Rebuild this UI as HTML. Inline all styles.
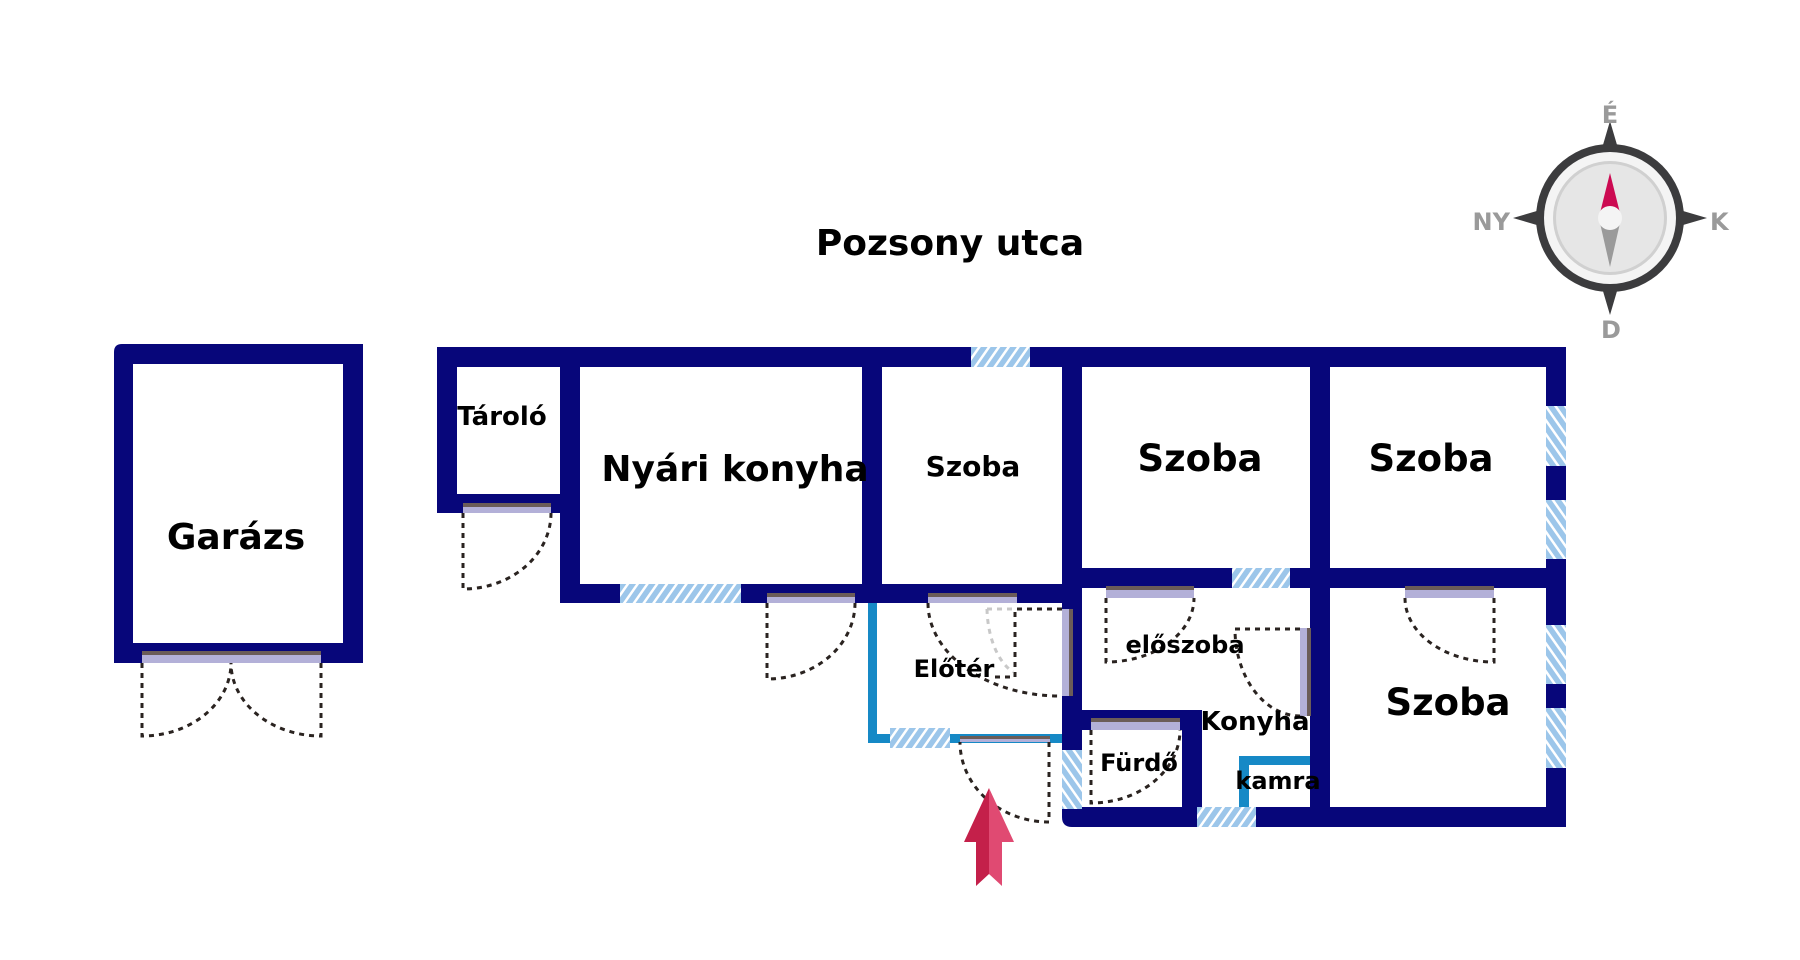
<!DOCTYPE html>
<html><head><meta charset="utf-8"><style>
html,body{margin:0;padding:0;background:#fff;}
svg{display:block;}
text{font-family:"DejaVu Sans","Liberation Sans",sans-serif;font-weight:bold;fill:#000;}
</style></head><body>
<svg width="1800" height="960" viewBox="0 0 1800 960" xmlns="http://www.w3.org/2000/svg">
<defs>
<pattern id="hatch" width="8" height="8" patternUnits="userSpaceOnUse" patternTransform="rotate(35)">
<rect width="8" height="8" fill="#9cc6ea"/><rect width="2.5" height="8" fill="#ffffff"/>
</pattern>
<pattern id="hatch2" width="8" height="8" patternUnits="userSpaceOnUse" patternTransform="rotate(-35)">
<rect width="8" height="8" fill="#9cc6ea"/><rect width="2.5" height="8" fill="#ffffff"/>
</pattern>
</defs>
<g fill="#07067a">
<path d="M114 352 Q114 344 122 344 L363 344 L363 663 L114 663 Z M133 364 L133 643 L343 643 L343 364 Z" fill-rule="evenodd"/>
<rect x="437" y="347" width="1129" height="20"/>
<rect x="437" y="347" width="20" height="166"/>
<rect x="437" y="494" width="143" height="19"/>
<rect x="560" y="347" width="20" height="256"/>
<rect x="560" y="584" width="522" height="19"/>
<rect x="862" y="347" width="20" height="256"/>
<rect x="1062" y="347" width="20" height="470"/>
<rect x="1310" y="347" width="20" height="480"/>
<rect x="1546" y="347" width="20" height="480"/>
<rect x="1062" y="568" width="504" height="20"/>
<rect x="1062" y="710" width="140" height="20"/>
<rect x="1182" y="710" width="20" height="117"/>
<path d="M1062 807 L1566 807 L1566 827 L1072 827 Q1062 827 1062 817 Z"/>
</g>
<g fill="#1689c6">
<rect x="868" y="603" width="9" height="140"/>
<rect x="868" y="734" width="194" height="9"/>
<rect x="1239" y="756" width="10" height="51"/>
<rect x="1239" y="756" width="71" height="9"/>
</g>
<rect x="971" y="347" width="59" height="20" fill="url(#hatch)"/>
<rect x="620" y="584" width="121" height="19" fill="url(#hatch)"/>
<rect x="1232" y="568" width="58" height="20" fill="url(#hatch)"/>
<rect x="1546" y="406" width="20" height="60" fill="url(#hatch2)"/>
<rect x="1546" y="500" width="20" height="59" fill="url(#hatch2)"/>
<rect x="1546" y="625" width="20" height="59" fill="url(#hatch2)"/>
<rect x="1546" y="708" width="20" height="60" fill="url(#hatch2)"/>
<rect x="890" y="728" width="60" height="20" fill="url(#hatch)"/>
<rect x="1062" y="750" width="20" height="59" fill="url(#hatch2)"/>
<rect x="1197" y="807" width="59" height="20" fill="url(#hatch)"/>
<g>
<rect x="142" y="651" width="179" height="12" fill="#b3b0d8"/><rect x="142" y="651" width="179" height="4" fill="#6b5c58"/>
<rect x="463" y="503" width="88" height="10" fill="#b3b0d8"/><rect x="463" y="503" width="88" height="4" fill="#6b5c58"/>
<rect x="767" y="593" width="88" height="10" fill="#b3b0d8"/><rect x="767" y="593" width="88" height="4" fill="#6b5c58"/>
<rect x="928" y="593" width="89" height="10" fill="#b3b0d8"/><rect x="928" y="593" width="89" height="4" fill="#6b5c58"/>
<rect x="1062" y="609" width="11" height="87" fill="#b3b0d8"/><rect x="1069" y="609" width="4" height="87" fill="#6b5c58"/>
<rect x="960" y="736" width="90" height="6" fill="#b3b0d8"/><rect x="960" y="736" width="90" height="3" fill="#6b5c58"/>
<rect x="1106" y="586" width="88" height="12" fill="#b3b0d8"/><rect x="1106" y="586" width="88" height="4" fill="#6b5c58"/>
<rect x="1405" y="586" width="89" height="12" fill="#b3b0d8"/><rect x="1405" y="586" width="89" height="4" fill="#6b5c58"/>
<rect x="1300" y="628" width="11" height="88" fill="#b3b0d8"/><rect x="1307" y="628" width="4" height="88" fill="#6b5c58"/>
<rect x="1091" y="718" width="89" height="12" fill="#b3b0d8"/><rect x="1091" y="718" width="89" height="4" fill="#6b5c58"/>
</g>
<g fill="none" stroke="#2a2320" stroke-width="3" stroke-dasharray="5 5">
<path d="M142 663 L142 736 A89 73 0 0 0 231 663"/>
<path d="M321 663 L321 736 A90 73 0 0 1 231 663"/>
<path d="M463 513 L463 589 A88 76 0 0 0 551 513"/>
<path d="M767 603 L767 679 A88 76 0 0 0 855 603"/>
<path d="M928 603 A132 93 0 0 0 1060 696"/>
<path d="M1062 609 L1015 609 L1015 677 L995 677"/>
<path d="M1049 742 L1049 822 A89 80 0 0 1 960 742"/>
<path d="M1106 598 L1106 662 A88 64 0 0 0 1194 598"/>
<path d="M1300 629 L1235 629 A65 87 0 0 0 1300 716"/>
<path d="M1494 598 L1494 662 A89 64 0 0 1 1405 598"/>
<path d="M1091 730 L1091 803 A89 73 0 0 0 1180 730"/>
</g>
<path d="M987 609 L1015 609 M987 609 A40 70 0 0 0 1013 672" fill="none" stroke="#c8c8c8" stroke-width="3" stroke-dasharray="5 5"/>
<polygon points="989,788 964,842 976,842 976,886 989,874 989,788" fill="#c4204a"/>
<polygon points="989,788 1014,842 1002,842 1002,886 989,874" fill="#e04a72"/>
<text x="950" y="255" font-size="36" text-anchor="middle">Pozsony utca</text>
<text x="236" y="549" font-size="36" text-anchor="middle">Garázs</text>
<text x="502" y="425" font-size="26" text-anchor="middle">Tároló</text>
<text x="735" y="481" font-size="36" text-anchor="middle">Nyári konyha</text>
<text x="973" y="476" font-size="28" text-anchor="middle">Szoba</text>
<text x="1200" y="471" font-size="37" text-anchor="middle">Szoba</text>
<text x="1431" y="471" font-size="37" text-anchor="middle">Szoba</text>
<text x="1448" y="715" font-size="37" text-anchor="middle">Szoba</text>
<text x="954" y="677" font-size="24" text-anchor="middle">Előtér</text>
<text x="1185" y="653" font-size="24" text-anchor="middle">előszoba</text>
<text x="1255" y="730" font-size="26" text-anchor="middle">Konyha</text>
<text x="1139" y="771" font-size="24" text-anchor="middle">Fürdő</text>
<text x="1278" y="789" font-size="24" text-anchor="middle">kamra</text>
<g>
<polygon points="1610,121 1632,196 1707,218 1632,240 1610,315 1588,240 1513,218 1588,196" fill="#3c3c3e"/>
<circle cx="1610" cy="218" r="74" fill="#3c3c3e"/>
<circle cx="1610" cy="218" r="66" fill="#f4f4f4"/>
<circle cx="1610" cy="218" r="57" fill="#d0d0d0"/>
<circle cx="1610" cy="218" r="54" fill="#e6e6e6"/>
<polygon points="1610,173 1600,213 1620,213" fill="#cc0a52"/>
<polygon points="1610,267 1600,223 1620,223" fill="#9a9a9a"/>
<circle cx="1610" cy="218" r="12" fill="#f4f4f4"/>
<text x="1610" y="123" font-size="24" style="fill:#9a9a9a" text-anchor="middle">É</text>
<text x="1611" y="338" font-size="24" style="fill:#9a9a9a" text-anchor="middle">D</text>
<text x="1510" y="230" font-size="24" style="fill:#9a9a9a" text-anchor="end">NY</text>
<text x="1710" y="230" font-size="24" style="fill:#9a9a9a" text-anchor="start">K</text>
</g>
</svg>
</body></html>
